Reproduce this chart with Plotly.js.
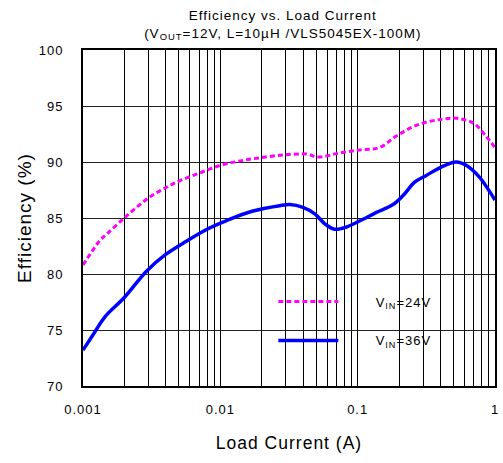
<!DOCTYPE html>
<html>
<head>
<meta charset="utf-8">
<script src="https://cdn.plot.ly/plotly-3.0.1.min.js"></script>
<style>
html,body{margin:0;padding:0;background:#fff;}
.main-svg text{letter-spacing:1px;}
</style>
</head>
<body>
<div id="chart" style="width:503px;height:463px;"></div>
<script>
// Load current (A) and efficiency (%)
var x24 = [0.001, 0.00133, 0.0015, 0.002, 0.003, 0.004, 0.005, 0.007, 0.01, 0.014, 0.02, 0.03, 0.043, 0.05, 0.06, 0.07, 0.1, 0.145, 0.19, 0.27, 0.4, 0.53, 0.7, 0.86, 1.0];
var y24 = [80.8, 83.0, 83.6, 85.0, 86.8, 87.7, 88.3, 89.0, 89.7, 90.1, 90.4, 90.65, 90.7, 90.45, 90.55, 90.75, 91.05, 91.3, 92.3, 93.3, 93.8, 93.9, 93.45, 92.3, 91.3];
var x36 = [0.001, 0.00118, 0.00145, 0.002, 0.0029, 0.004, 0.0057, 0.008, 0.011, 0.017, 0.027, 0.032, 0.04, 0.049, 0.058, 0.068, 0.083, 0.104, 0.137, 0.181, 0.214, 0.26, 0.316, 0.406, 0.523, 0.617, 0.77, 0.887, 1.0];
var y36 = [73.2, 74.55, 76.2, 77.9, 80.25, 81.75, 82.95, 84.0, 84.75, 85.6, 86.1, 86.2, 85.95, 85.35, 84.45, 84.0, 84.2, 84.75, 85.5, 86.2, 87.0, 88.2, 88.8, 89.55, 90.0, 89.7, 88.65, 87.6, 86.6];

var seriesNames = ['V<sub>IN</sub>=24V', 'V<sub>IN</sub>=36V'];
var xTickVals = [0.001, 0.01, 0.1, 1];
var xTickText = ['0.001', '0.01', '0.1', '1'];
var yTickVals = [70, 75, 80, 85, 90, 95, 100];

// minor grid positions (2..9 within each decade)
var xMinorVals = [];
for (var d = 0; d < xTickVals.length - 1; d++) {
  for (var m = 2; m <= 9; m++) xMinorVals.push(xTickVals[d] * m);
}

var font = 'Liberation Sans, Arial, sans-serif';
var pad = '\u00a0\u00a0\u00a0\u00a0\u00a0\u00a0\u00a0';
var tail = '\u00a0\u00a0\u00a0';

var traces = [
  {x: x24, y: y24, name: pad + seriesNames[0] + tail, type: 'scatter', mode: 'lines',
   line: {color: '#ff00ff', width: 3, dash: '5px,3px', shape: 'spline', smoothing: 1},
   legendgroup: 'a'},
  {x: x36, y: y36, name: pad + seriesNames[1] + tail, type: 'scatter', mode: 'lines',
   line: {color: '#0000ff', width: 3.5, shape: 'spline', smoothing: 1},
   legendgroup: 'b'}
];

var layout = {
  width: 503, height: 463,
  margin: {l: 83, r: 8, t: 50, b: 77},
  paper_bgcolor: '#fff', plot_bgcolor: '#fff',
  font: {family: font, color: '#000', size: 13},
  title: {
    text: 'Efficiency vs. Load Current<br>(V<sub>OUT</sub>=12V, L=10µH /VLS5045EX-100M)',
    font: {family: font, size: 13.5, color: '#000'},
    x: 0.485, xref: 'paper', xanchor: 'center',
    y: 1 - 20 / 463, yref: 'container', yanchor: 'top'
  },
  xaxis: {
    type: 'log', range: [-3, 0],
    tickmode: 'array', tickvals: xTickVals, ticktext: xTickText,
    ticks: 'outside', ticklen: 10, tickcolor: 'rgba(0,0,0,0)',
    showgrid: true, gridcolor: '#000', gridwidth: 1,
    minor: {tickmode: 'array', tickvals: xMinorVals, showgrid: true, gridcolor: '#000', gridwidth: 1, ticks: ''},
    showline: true, mirror: true, linecolor: '#000', linewidth: 2,
    zeroline: false,
    tickfont: {family: font, size: 13, color: '#000'},
    title: {text: 'Load Current (A)', font: {family: font, size: 17.5, color: '#000'}, standoff: 21}
  },
  yaxis: {
    range: [70, 100], tickmode: 'array', tickvals: yTickVals,
    ticks: 'outside', ticklen: 15, tickcolor: 'rgba(0,0,0,0)',
    showgrid: true, gridcolor: '#222', gridwidth: 1,
    showline: true, mirror: true, linecolor: '#000', linewidth: 2,
    zeroline: false,
    tickfont: {family: font, size: 13, color: '#000'},
    title: {text: 'Efficiency (%)', font: {family: font, size: 19, color: '#000'}, standoff: 5}
  },
  showlegend: true,
  legend: {
    x: 0.462, y: 0.296, xanchor: 'left', yanchor: 'top',
    bgcolor: 'rgba(0,0,0,0)', borderwidth: 0,
    itemwidth: 60, tracegroupgap: 19,
    font: {family: font, size: 13, color: '#000'}
  },
  shapes: [{
    type: 'rect', xref: 'paper', yref: 'paper',
    x0: 0.454, x1: 0.944, y0: 0.095, y1: 0.310,
    fillcolor: '#fff', line: {width: 0}, layer: 'between'
  }]
};

Plotly.newPlot('chart', traces, layout, {displayModeBar: false, staticPlot: true});
</script>
</body>
</html>
